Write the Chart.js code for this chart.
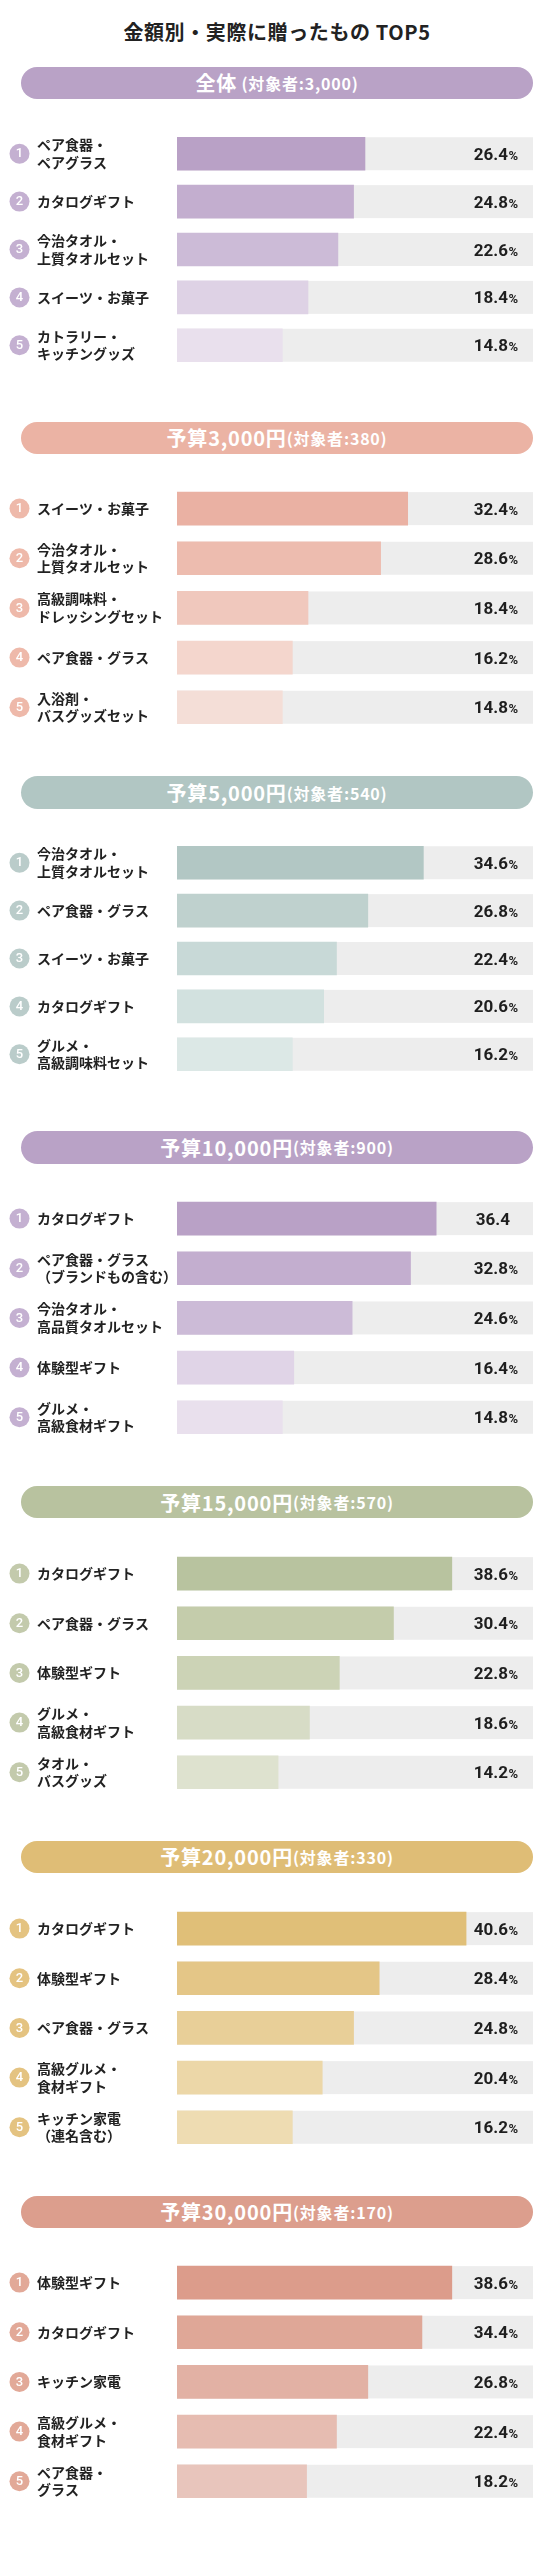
<!DOCTYPE html>
<html lang="ja">
<head>
<meta charset="utf-8">
<title>金額別・実際に贈ったもの TOP5</title>
<script src="https://cdn.jsdelivr.net/npm/chart.js@4.4.1/dist/chart.umd.min.js"></script>
<style>
  html, body { margin: 0; padding: 0; background: #fff; }
  body { width: 554px; height: 2560px; position: relative; overflow: hidden; font-family: "Noto Sans CJK JP", "Noto Sans", sans-serif; }
  #title { position: absolute; left: 0; top: 19px; width: 554px; text-align: center; font-size: 20px; font-weight: 700; color: #222; letter-spacing: 0.6px; line-height: 26px; }
  .pill { position: absolute; left: 21px; width: 512px; height: 32.5px; border-radius: 17px; color: #fff; display: flex; align-items: center; justify-content: center; font-weight: 700; white-space: pre; }
  .pill .main { font-size: 20px; letter-spacing: 0.8px; }
  .pill .sub { font-size: 16px; letter-spacing: 0.8px; }
  .box { position: absolute; left: 0; width: 554px; height: 275px; }
</style>
</head>
<body>
<div id="title">金額別・実際に贈ったもの TOP5</div>

<script>
// Data per section
const sectionNames = ['全体', '予算3,000円', '予算5,000円', '予算10,000円', '予算15,000円', '予算20,000円', '予算30,000円'];
const sectionCounts = ['3,000', '380', '540', '900', '570', '330', '170'];

const catsAll = [['ペア食器・', 'ペアグラス'], 'カタログギフト', ['今治タオル・', '上質タオルセット'], 'スイーツ・お菓子', ['カトラリー・', 'キッチングッズ']];
const valsAll = [26.4, 24.8, 22.6, 18.4, 14.8];

const cats3000 = ['スイーツ・お菓子', ['今治タオル・', '上質タオルセット'], ['高級調味料・', 'ドレッシングセット'], 'ペア食器・グラス', ['入浴剤・', 'バスグッズセット']];
const vals3000 = [32.4, 28.6, 18.4, 16.2, 14.8];

const cats5000 = [['今治タオル・', '上質タオルセット'], 'ペア食器・グラス', 'スイーツ・お菓子', 'カタログギフト', ['グルメ・', '高級調味料セット']];
const vals5000 = [34.6, 26.8, 22.4, 20.6, 16.2];

const cats10000 = ['カタログギフト', ['ペア食器・グラス', '（ブランドもの含む）'], ['今治タオル・', '高品質タオルセット'], '体験型ギフト', ['グルメ・', '高級食材ギフト']];
const vals10000 = [36.4, 32.8, 24.6, 16.4, 14.8];

const cats15000 = ['カタログギフト', 'ペア食器・グラス', '体験型ギフト', ['グルメ・', '高級食材ギフト'], ['タオル・', 'バスグッズ']];
const vals15000 = [38.6, 30.4, 22.8, 18.6, 14.2];

const cats20000 = ['カタログギフト', '体験型ギフト', 'ペア食器・グラス', ['高級グルメ・', '食材ギフト'], ['キッチン家電', '（連名含む）']];
const vals20000 = [40.6, 28.4, 24.8, 20.4, 16.2];

const cats30000 = ['体験型ギフト', 'カタログギフト', 'キッチン家電', ['高級グルメ・', '食材ギフト'], ['ペア食器・', 'グラス']];
const vals30000 = [38.6, 34.4, 26.8, 22.4, 18.2];

// the 10,000 yen top value is printed without a percent sign
const suffixDefault = ['%', '%', '%', '%', '%'];
const suffix10000 = ['', '%', '%', '%', '%'];

const X_MAX = 50;

// Colours per section
const pillColors = ['#b9a2c6', '#ebb3a4', '#b1c6c3', '#b9a2c6', '#b8c29f', '#dfbd76', '#dc9e8d'];
const rankColors = ['#c4b0d1', '#eeb9aa', '#bacccA', '#c4b0d1', '#c3caac', '#e4c381', '#e2a998'];
const barColors = [
    ['#b9a1c6', '#c3aecf', '#ccbbd7', '#ded2e5', '#e9e0ed'],
    ['#eab1a3', '#edbcaf', '#f0c8bd', '#f4d6cd', '#f4ded7'],
    ['#b2c7c4', '#bfd1ce', '#c8d9d7', '#d2e1df', '#dce8e6'],
    ['#b9a1c6', '#c3aecf', '#ccbbd7', '#e0d4e7', '#e9e0ed'],
    ['#b8c39f', '#c4ccab', '#ccd3b6', '#d7dcc6', '#dee2cf'],
    ['#e0bf78', '#e4c687', '#e8cf98', '#ecd7a8', '#eedcb2'],
    ['#dc9c8b', '#dfa797', '#e2b1a4', '#e6bcb1', '#e8c5bc']
];
const TRACK_COLOR = '#ededed';

const sectionCats = [catsAll, cats3000, cats5000, cats10000, cats15000, cats20000, cats30000];
const sectionVals = [valsAll, vals3000, vals5000, vals10000, vals15000, vals20000, vals30000];
const sectionSuffix = [suffixDefault, suffixDefault, suffixDefault, suffix10000, suffixDefault, suffixDefault, suffixDefault];

// gray track behind every bar
const trackPlugin = {
    id: 'track',
    beforeDatasetsDraw(chart) {
        const { ctx, chartArea } = chart;
        const meta = chart.getDatasetMeta(0);
        ctx.save();
        ctx.fillStyle = TRACK_COLOR;
        meta.data.forEach(bar => {
            ctx.fillRect(chartArea.left, bar.y - bar.height / 2, chartArea.right - chartArea.left, bar.height);
        });
        ctx.restore();
    }
};

// percentage text at the right end of each track
const valuePlugin = {
    id: 'values',
    afterDatasetsDraw(chart) {
        const { ctx, chartArea } = chart;
        const ds = chart.data.datasets[0];
        const meta = chart.getDatasetMeta(0);
        ctx.save();
        ctx.fillStyle = '#1e1e1e';
        ctx.textAlign = 'right';
        ctx.textBaseline = 'alphabetic';
        meta.data.forEach((bar, i) => {
            const x = chartArea.right - 15;
            const y = bar.y + 6;
            const sfx = ds.suffix[i];
            let w = 0;
            if (sfx) {
                ctx.font = '700 13px Roboto';
                ctx.fillText(sfx, x, y);
                w = ctx.measureText(sfx).width + 0.5;
            } else {
                w = 8;
            }
            ctx.font = '700 17px Roboto';
            ctx.fillText(ds.data[i].toFixed(1), x - w, y);
        });
        ctx.restore();
    }
};

// rank circles left of the labels
const rankPlugin = {
    id: 'rank',
    afterDraw(chart) {
        const { ctx } = chart;
        const yScale = chart.scales.y;
        const col = chart.data.datasets[0].rankColor;
        ctx.save();
        chart.data.labels.forEach((l, i) => {
            const cy = yScale.getPixelForValue(i);
            ctx.beginPath();
            ctx.arc(19.5, cy, 10, 0, Math.PI * 2);
            ctx.fillStyle = col;
            ctx.fill();
            ctx.fillStyle = '#fff';
            ctx.font = '500 13px Roboto';
            ctx.textAlign = 'center';
            ctx.textBaseline = 'middle';
            ctx.fillText(String(i + 1), 19.5, cy + 0.5);
        });
        ctx.restore();
    }
};

function buildSection(i) {
    const top = 66.7 + 354.8 * i;

    const pill = document.createElement('div');
    pill.className = 'pill';
    pill.style.top = top + 'px';
    pill.style.background = pillColors[i];
    const sep = i === 0 ? ' ' : '';
    pill.innerHTML = `<span class="main">${sectionNames[i]}</span><span class="sub">${sep}(対象者:${sectionCounts[i]})</span>`;
    document.body.appendChild(pill);

    const box = document.createElement('div');
    box.className = 'box';
    box.style.top = (top + 44.8) + 'px';
    const canvas = document.createElement('canvas');
    box.appendChild(canvas);
    document.body.appendChild(box);

    new Chart(canvas.getContext('2d'), {
        type: 'bar',
        data: {
            labels: sectionCats[i],
            datasets: [{
                data: sectionVals[i],
                backgroundColor: barColors[i],
                borderWidth: 0,
                barThickness: 33,
                suffix: sectionSuffix[i],
                rankColor: rankColors[i]
            }]
        },
        options: {
            indexAxis: 'y',
            responsive: true,
            maintainAspectRatio: false,
            animation: false,
            layout: { padding: { left: 37, right: 21, top: 0, bottom: 0 } },
            scales: {
                x: { display: false, min: 0, max: X_MAX },
                y: {
                    position: 'left',
                    grid: { display: false },
                    border: { display: false },
                    afterFit(scale) { scale.width = 140; },
                    ticks: {
                        autoSkip: false,
                        crossAlign: 'far',
                        padding: 0,
                        color: '#222',
                        font: { family: '"Noto Sans CJK JP"', size: 14, weight: '700', lineHeight: 1.27 }
                    }
                }
            },
            plugins: {
                legend: { display: false },
                tooltip: { enabled: false }
            }
        },
        plugins: [trackPlugin, valuePlugin, rankPlugin]
    });
}

for (let i = 0; i < sectionNames.length; i++) {
    buildSection(i);
}
</script>
</body>
</html>
